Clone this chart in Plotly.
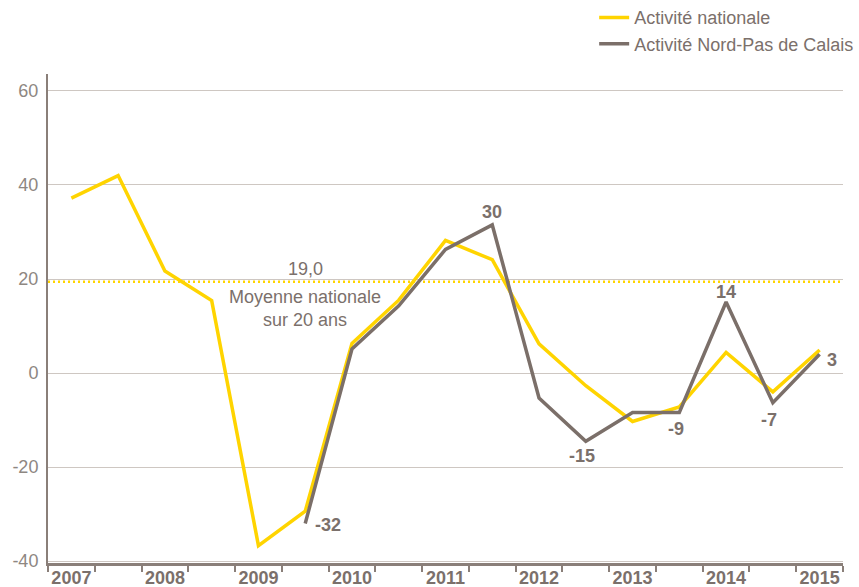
import plotly.graph_objects as go

# ---------------- data ----------------
periods = ["2007 S1", "2007 S2", "2008 S1", "2008 S2", "2009 S1", "2009 S2",
           "2010 S1", "2010 S2", "2011 S1", "2011 S2", "2012 S1", "2012 S2",
           "2013 S1", "2013 S2", "2014 S1", "2014 S2", "2015 S1"]
tick_labels = ["2007", "", "2008", "", "2009", "", "2010", "", "2011", "",
               "2012", "", "2013", "", "2014", "", "2015"]

national = [37.2, 42.0, 21.7, 15.4, -36.7, -29.4, 6.3, 15.5, 28.2, 24.1,
            6.2, -2.7, -10.3, -7.2, 4.4, -4.0, 4.9]

npdc_periods = periods[5:]
npdc = [-32.0, 5.1, 14.3, 26.3, 31.5, -5.3, -14.5, -8.4, -8.4, 15.1, -6.3, 4.0]

# labelled points of the Nord-Pas de Calais series
label_periods = ["2009 S2", "2011 S2", "2012 S2", "2013 S2", "2014 S1", "2014 S2", "2015 S1"]
label_texts = ["-32", "30", "-15", "-9", "14", "-7", "3"]

avg_value = 19.4
avg_label = "19,0"
avg_caption = "Moyenne nationale<br>sur 20 ans"
avg_anchor = "2009 S2"

y_ticks = [-40, -20, 0, 20, 40, 60]
y_tick_labels = ["-40", "-20", "0", "20", "40", "60"]

# ---------------- style ----------------
FONT = "Liberation Sans, Arial, Helvetica, sans-serif"
YELLOW = "#FFD400"
GREY_LINE = "#7B6F69"
TEXT = "#7B706B"
TICK_TEXT = "#8E8782"
GRID = "#CEC7C2"
AXIS = "#8A7F79"

# pixel offsets of the value labels from their points (x right, y up)
label_shifts = [(23, -1), (0, 13), (-4, -15), (-3, -16), (0, 10), (-4, -17), (12, -6)]

fig = go.Figure()

fig.add_trace(go.Scatter(
    x=periods, y=national, mode="lines", name="Activité nationale",
    line=dict(color=YELLOW, width=3.5),
))
fig.add_trace(go.Scatter(
    x=npdc_periods, y=npdc, mode="lines", name="Activité Nord-Pas de Calais",
    line=dict(color=GREY_LINE, width=3.5),
))

npdc_lookup = dict(zip(npdc_periods, npdc))
for p, t, (dx, dy) in zip(label_periods, label_texts, label_shifts):
    fig.add_annotation(x=p, y=npdc_lookup[p], text=t, showarrow=False,
                       xanchor="center", yanchor="middle", xshift=dx, yshift=dy,
                       font=dict(family=FONT, size=18, color=TEXT, weight="bold"))

fig.add_shape(type="line", xref="paper", x0=0, x1=1, yref="y",
              y0=avg_value, y1=avg_value,
              line=dict(color=YELLOW, width=2.5, dash="2px,3px"), layer="below")

fig.add_annotation(x=avg_anchor, y=avg_value, text=avg_label, showarrow=False,
                   yanchor="bottom", yshift=1,
                   font=dict(family=FONT, size=18, color=TEXT))
fig.add_annotation(x=avg_anchor, y=avg_value, text=avg_caption, showarrow=False,
                   yanchor="top", yshift=-3,
                   font=dict(family=FONT, size=18, color=TEXT))

fig.update_layout(
    width=859, height=587,
    margin=dict(l=48, r=16, t=74, b=24, autoexpand=False),
    paper_bgcolor="white", plot_bgcolor="white",
    font=dict(family=FONT, color=TEXT),
    showlegend=True,
    legend=dict(x=0.687, xanchor="left", y=1.153, yanchor="top",
                font=dict(family=FONT, size=18, color=TEXT),
                bgcolor="rgba(0,0,0,0)", tracegroupgap=0),
    xaxis=dict(
        type="category", categoryorder="array", categoryarray=periods,
        tickmode="array", tickvals=periods, ticktext=tick_labels,
        tickson="boundaries", ticks="outside", ticklen=6, tickwidth=1.5,
        tickcolor=AXIS, showline=True, linecolor=AXIS, linewidth=2.5,
        showgrid=False, range=[-0.5, 16.5], tickangle=0, automargin=False,
        tickfont=dict(family=FONT, size=18, color=TEXT, weight="bold"),
        ticklabelstandoff=-3,
    ),
    yaxis=dict(
        range=[-40.4, 63.6], tickmode="array", tickvals=y_ticks,
        ticktext=y_tick_labels, ticks="",
        showgrid=True, gridcolor=GRID, gridwidth=1, zeroline=False,
        showline=True, linecolor=AXIS, linewidth=2, automargin=False,
        tickfont=dict(family=FONT, size=18, color=TICK_TEXT),
        ticklabelstandoff=4,
    ),
)

fig.write_html("out.html", config={"displayModeBar": False},
               post_script="document.body.style.margin='0';")
